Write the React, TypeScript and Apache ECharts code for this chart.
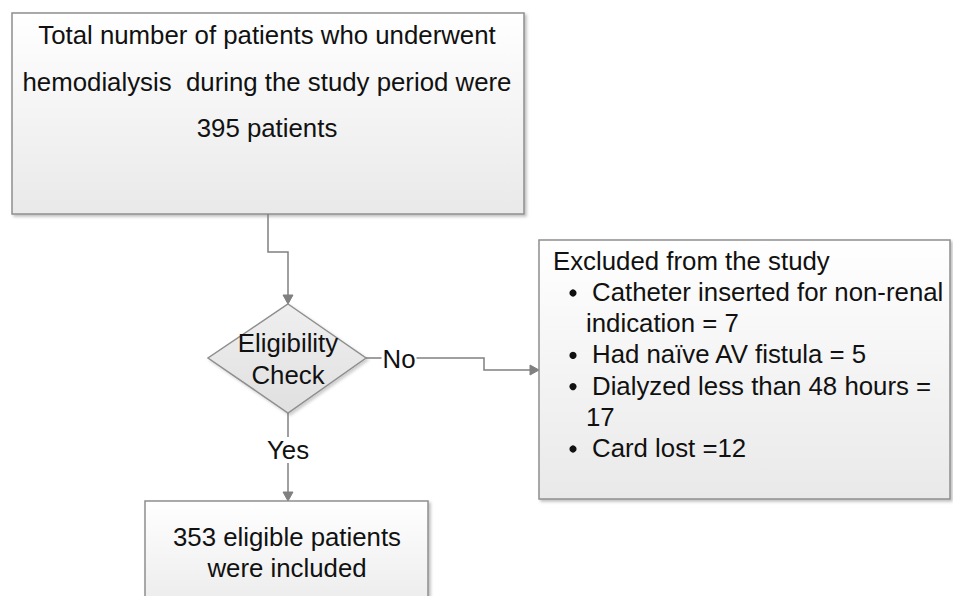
import React, { useEffect, useRef } from "react";
import * as echarts from "echarts";

// ---- data ----
const totalPatients = 395;
const topLines = [
  "Total number of patients who underwent",
  "hemodialysis  during the study period were",
  `${totalPatients} patients`,
];
const decisionLines = ["Eligibility", "Check"];
const noLabel = "No";
const yesLabel = "Yes";
const excludedTitle = "Excluded from the study";
const exclusionReasons = [
  ["Catheter inserted for non-renal", "indication = 7"],
  ["Had naïve AV fistula = 5"],
  ["Dialyzed less than 48 hours =", "17"],
  ["Card lost =12"],
];
const includedCount = 353;
const includedLines = [`${includedCount} eligible patients`, "were included"];

const FONT = '25.8px "Liberation Sans", Arial, sans-serif';
const LINE = "#808080";
const BORDER = "#8f8f8f";
const TEXT = "#111111";

function boxFill() {
  return {
    type: "linear",
    x: 0,
    y: 0,
    x2: 0,
    y2: 1,
    colorStops: [
      { offset: 0, color: "#ffffff" },
      { offset: 1, color: "#e9e9e9" },
    ],
  };
}

function box(x: number, y: number, w: number, h: number) {
  return {
    type: "rect",
    shape: { x, y, width: w, height: h },
    style: {
      fill: boxFill(),
      stroke: BORDER,
      lineWidth: 1.5,
      shadowBlur: 3,
      shadowOffsetX: 2,
      shadowOffsetY: 2,
      shadowColor: "rgba(0,0,0,0.25)",
    },
  };
}

function text(t: string, x: number, y: number, align = "center", bg?: string) {
  const st: any = {
    text: t,
    x,
    y,
    font: FONT,
    fill: TEXT,
    textAlign: align,
    textVerticalAlign: "middle",
  };
  if (bg) {
    st.backgroundColor = bg;
    st.padding = [0, 1];
  }
  return { type: "text", style: st, z: 10 };
}

function line(points: number[][]) {
  return {
    type: "polyline",
    shape: { points },
    style: { stroke: LINE, lineWidth: 1.5, fill: "none" },
  };
}

function arrowDown(x: number, y: number) {
  return {
    type: "polygon",
    shape: { points: [[x - 5, y - 9], [x + 5, y - 9], [x, y]] },
    style: { fill: LINE, stroke: LINE, lineWidth: 1 },
  };
}
function arrowRight(x: number, y: number) {
  return {
    type: "polygon",
    shape: { points: [[x - 9, y - 5], [x - 9, y + 5], [x, y]] },
    style: { fill: LINE, stroke: LINE, lineWidth: 1 },
  };
}

export default function App() {
  const ref = useRef<HTMLDivElement>(null);
  useEffect(() => {
    if (!ref.current) return;
    const chart = echarts.init(ref.current, null, { renderer: "svg" });
    const els: any[] = [];

    // top box
    els.push(box(12, 13, 512, 201));
    const topY = [35, 82, 128];
    topLines.forEach((t, i) => els.push(text(t, 267, topY[i])));

    // connector top -> diamond
    els.push(line([[268, 214], [268, 252], [288, 252], [288, 297]]));
    els.push(arrowDown(288, 304));

    // diamond
    els.push({
      type: "polygon",
      shape: { points: [[288, 304], [366, 358], [288, 413], [208, 358]] },
      style: {
        fill: {
          type: "linear", x: 0, y: 0, x2: 0, y2: 1,
          colorStops: [
            { offset: 0, color: "#efefef" },
            { offset: 1, color: "#e0e0e0" },
          ],
        },
        stroke: BORDER,
        lineWidth: 1.5,
        shadowBlur: 3,
        shadowOffsetX: 2,
        shadowOffsetY: 2,
        shadowColor: "rgba(0,0,0,0.2)",
      },
    });
    els.push(text(decisionLines[0], 288, 343));
    els.push(text(decisionLines[1], 288, 375));

    // No branch
    els.push(line([[366, 358], [484, 358], [484, 370], [531, 370]]));
    els.push(arrowRight(539, 370));
    els.push(text(noLabel, 399, 359, "center", "#ffffff"));

    // excluded box
    els.push(box(539, 240, 411, 259));
    els.push(text(excludedTitle, 553, 261, "left"));
    let yy = 292;
    exclusionReasons.forEach((r) => {
      els.push({
        type: "circle",
        shape: { cx: 573, cy: yy + 1, r: 3.6 },
        style: { fill: TEXT },
      });
      r.forEach((l, j) => {
        els.push(text(l, j === 0 ? 592 : 586, yy, "left"));
        yy += 31.2;
      });
    });

    // Yes branch
    els.push(line([[288, 413], [288, 494]]));
    els.push(arrowDown(288, 501));
    els.push(text(yesLabel, 288, 450, "center", "#ffffff"));

    // bottom box
    els.push(box(145, 501, 283, 120));
    els.push(text(includedLines[0], 287, 537));
    els.push(text(includedLines[1], 287, 568));

    chart.setOption({
      animation: false,
      backgroundColor: "#ffffff",
      graphic: { elements: els },
    });
    return () => chart.dispose();
  }, []);
  return (
    <div
      ref={ref}
      style={{ position: "absolute", left: 0, top: 0, width: 953, height: 596 }}
    />
  );
}
